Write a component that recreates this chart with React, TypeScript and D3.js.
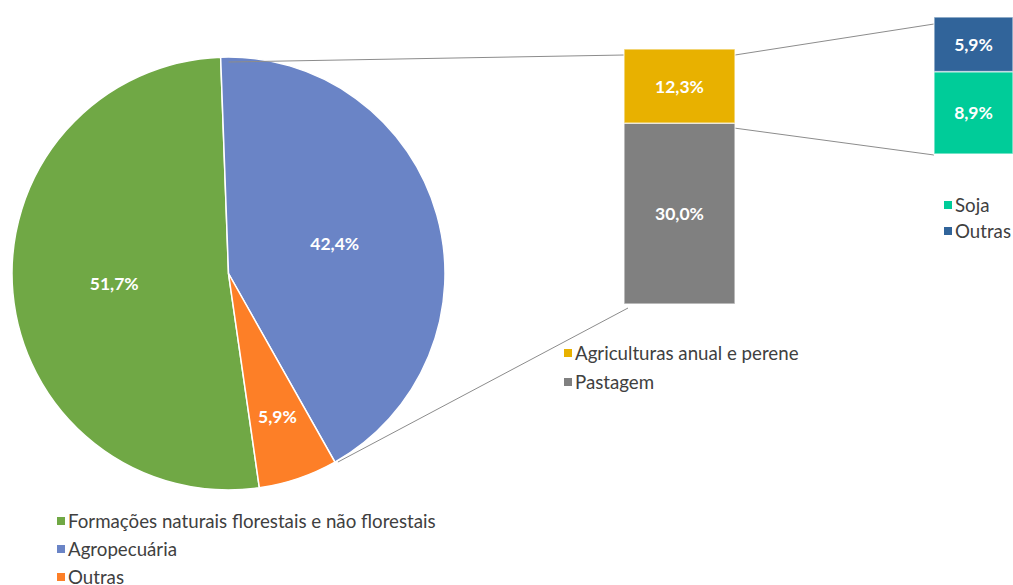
import React from "react";
import * as d3 from "d3";

const pieCategories = ["Formações naturais florestais e não florestais", "Agropecuária", "Outras"];
const pieValues = [51.7, 42.4, 5.9];
const pieColors = ["#70A845", "#6A84C6", "#FD7F27"];
const pieLabelRadius = [0.53, 0.51, 0.7];

const bar1Categories = ["Agriculturas anual e perene", "Pastagem"];
const bar1Values = [12.3, 30.0];
const bar1Colors = ["#E8B100", "#808080"];

const bar2Categories = ["Soja", "Outras"];
const bar2Values = [8.9, 5.9];
const bar2Colors = ["#00CC99", "#31649A"];

const FONT = "Lato, 'Open Sans', sans-serif";
const fmt = (v: number) => v.toFixed(1).replace(".", ",") + "%";
const LEG = 18.7;
const LAB = 17.5;

export default function App() {
  const W = 1013, H = 585;
  const cx = 228.5, cy = 273.5, R = 216.5;
  const deg = Math.PI / 180;
  const start = 171.8 * deg;
  const pie = d3.pie<number>().sort(null).startAngle(start).endAngle(start + 2 * Math.PI);
  const arcs = pie(pieValues);
  const arc = d3.arc<d3.PieArcDatum<number>>().innerRadius(0).outerRadius(R);

  const b1x = d3.scaleBand().domain(["b"]).range([624, 735]).padding(0);
  const b1y = d3.scaleLinear().domain([0, d3.sum(bar1Values)]).range([304, 49]);
  const b2x = d3.scaleBand().domain(["b"]).range([934, 1013]).padding(0);
  const b2y = d3.scaleLinear().domain([0, d3.sum(bar2Values)]).range([154, 17]);

  const b1Order = [1, 0];
  const b2Order = [0, 1];
  const stack = (vals: number[], order: number[]) => {
    let acc = 0;
    const out: { i: number; y0: number; y1: number }[] = [];
    order.forEach((i) => {
      out.push({ i, y0: acc, y1: acc + vals[i] });
      acc += vals[i];
    });
    return out;
  };
  const s1 = stack(bar1Values, b1Order);
  const s2 = stack(bar2Values, b2Order);

  const blueArc = arcs[1];
  const pEnd = [cx + R * Math.sin(blueArc.endAngle), cy - R * Math.cos(blueArc.endAngle)];

  return (
    <svg width={W} height={H} style={{ position: "absolute", left: 0, top: 0, background: "#fff" }}>
      <g transform={`translate(${cx},${cy})`}>
        {arcs.map((a, i) => (
          <path key={i} d={arc(a) || ""} fill={pieColors[i]} stroke="#fff" strokeWidth={1.5} />
        ))}
        {arcs.map((a, i) => {
          const r = R * pieLabelRadius[i];
          const m = (a.startAngle + a.endAngle) / 2;
          return (
            <text key={i} x={r * Math.sin(m)} y={-r * Math.cos(m)} textAnchor="middle" dominantBaseline="central"
              fill="#fff" fontWeight="bold" fontSize={LAB} fontFamily={FONT}>{fmt(pieValues[i])}</text>
          );
        })}
      </g>
      <g stroke="#8c8c8c" strokeWidth={1}>
        <line x1={cx} y1={cy - R + 5} x2={b1x("b")!} y2={b1y(d3.sum(bar1Values)) + 6} />
        <line x1={pEnd[0] + 3} y1={pEnd[1]} x2={b1x("b")! + 4} y2={b1y(0) + 4} />
        <line x1={b1x("b")! + b1x.bandwidth()} y1={b1y(d3.sum(bar1Values)) + 6} x2={b2x("b")!} y2={b2y(d3.sum(bar2Values)) + 7} />
        <line x1={b1x("b")! + b1x.bandwidth()} y1={b1y(bar1Values[1]) + 5} x2={b2x("b")!} y2={b2y(0) + 1} />
      </g>
      {s1.map((s) => (
        <g key={s.i}>
          <rect x={b1x("b")} y={b1y(s.y1)} width={b1x.bandwidth()} height={b1y(s.y0) - b1y(s.y1)}
            fill={bar1Colors[s.i]} stroke="#fff" strokeOpacity={0.6} strokeWidth={1.5} />
          <text x={b1x("b")! + b1x.bandwidth() / 2} y={(b1y(s.y0) + b1y(s.y1)) / 2} textAnchor="middle"
            dominantBaseline="central" fill="#fff" fontWeight="bold" fontSize={LAB} fontFamily={FONT}>{fmt(bar1Values[s.i])}</text>
        </g>
      ))}
      {s2.map((s) => (
        <g key={s.i}>
          <rect x={b2x("b")} y={b2y(s.y1)} width={b2x.bandwidth()} height={b2y(s.y0) - b2y(s.y1)}
            fill={bar2Colors[s.i]} stroke="#fff" strokeOpacity={0.6} strokeWidth={1.5} />
          <text x={b2x("b")! + b2x.bandwidth() / 2} y={(b2y(s.y0) + b2y(s.y1)) / 2} textAnchor="middle"
            dominantBaseline="central" fill="#fff" fontWeight="bold" fontSize={LAB} fontFamily={FONT}>{fmt(bar2Values[s.i])}</text>
        </g>
      ))}
      {pieCategories.map((c, i) => (
        <g key={c} transform={`translate(57, ${521 + i * 28})`}>
          <rect x={0} y={-4} width={8} height={8} fill={pieColors[i]} />
          <text x={11} y={0} dominantBaseline="central" fontSize={LEG} fill="#404040" fontFamily={FONT}>{c}</text>
        </g>
      ))}
      {bar1Categories.map((c, i) => (
        <g key={c} transform={`translate(564, ${353 + i * 29})`}>
          <rect x={0} y={-4} width={8} height={8} fill={bar1Colors[i]} />
          <text x={11} y={0} dominantBaseline="central" fontSize={LEG} fill="#404040" fontFamily={FONT}>{c}</text>
        </g>
      ))}
      {bar2Categories.map((c, i) => (
        <g key={c} transform={`translate(944, ${205 + i * 26})`}>
          <rect x={0} y={-4} width={8} height={8} fill={bar2Colors[i]} />
          <text x={11} y={0} dominantBaseline="central" fontSize={LEG} fill="#404040" fontFamily={FONT}>{c}</text>
        </g>
      ))}
    </svg>
  );
}
